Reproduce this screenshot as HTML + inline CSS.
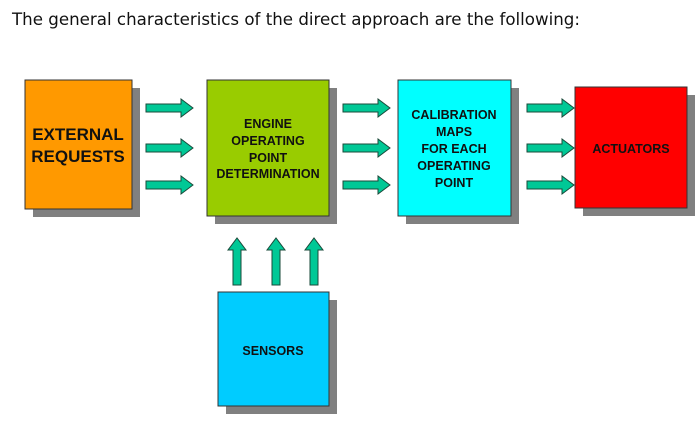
<!DOCTYPE html>
<html><head><meta charset="utf-8"><style>
html,body{margin:0;padding:0;background:#fff;width:700px;height:422px;overflow:hidden}
svg{display:block}
.b{font-family:"Liberation Sans",Arial,sans-serif;font-weight:bold;fill:#111;text-anchor:middle}
</style></head><body>
<svg width="700" height="422" viewBox="0 0 700 422" xmlns="http://www.w3.org/2000/svg">
<defs>
<path id="ah" d="M0,-4 H35 V-9 L47,0 L35,9 V4 H0 Z" fill="#00c896" stroke="#1a4a3a" stroke-width="1"/>
<path id="av" d="M-4,0 V-35 H-9 L0,-47 L9,-35 H4 V0 Z" fill="#00c896" stroke="#1a4a3a" stroke-width="1"/>
</defs>
<text x="12" y="25" font-family="DejaVu Sans,Verdana,sans-serif" font-size="17" fill="#111" textLength="568" lengthAdjust="spacingAndGlyphs">The general characteristics of the direct approach are the following:</text>

<rect x="33" y="88" width="107" height="129" fill="#808080"/>
<rect x="215" y="88" width="122" height="136" fill="#808080"/>
<rect x="406" y="88" width="113" height="136" fill="#808080"/>
<rect x="583" y="95" width="112" height="121" fill="#808080"/>
<rect x="226" y="300" width="111" height="114" fill="#808080"/>

<rect x="25" y="80" width="107" height="129" fill="#ff9900" stroke="#333" stroke-width="1"/>
<rect x="207" y="80" width="122" height="136" fill="#99cc00" stroke="#333" stroke-width="1"/>
<rect x="398" y="80" width="113" height="136" fill="#00ffff" stroke="#333" stroke-width="1"/>
<rect x="575" y="87" width="112" height="121" fill="#ff0000" stroke="#333" stroke-width="1"/>
<rect x="218" y="292" width="111" height="114" fill="#00ccff" stroke="#333" stroke-width="1"/>

<text class="b" font-size="17" x="78" y="140">EXTERNAL</text>
<text class="b" font-size="17" x="78" y="162">REQUESTS</text>
<g font-size="12.5">
<text class="b" x="268" y="128">ENGINE</text>
<text class="b" x="268" y="145">OPERATING</text>
<text class="b" x="268" y="162">POINT</text>
<text class="b" x="268" y="178">DETERMINATION</text>
<text class="b" x="454" y="119">CALIBRATION</text>
<text class="b" x="454" y="136">MAPS</text>
<text class="b" x="454" y="153">FOR EACH</text>
<text class="b" x="454" y="170">OPERATING</text>
<text class="b" x="454" y="187">POINT</text>
<text class="b" x="631" y="153">ACTUATORS</text>
<text class="b" x="273" y="355">SENSORS</text>
</g>

<use href="#ah" x="146" y="108"/><use href="#ah" x="146" y="148"/><use href="#ah" x="146" y="185"/>
<use href="#ah" x="343" y="108"/><use href="#ah" x="343" y="148"/><use href="#ah" x="343" y="185"/>
<use href="#ah" x="527" y="108"/><use href="#ah" x="527" y="148"/><use href="#ah" x="527" y="185"/>
<use href="#av" x="237" y="285"/><use href="#av" x="276" y="285"/><use href="#av" x="314" y="285"/>
</svg>
</body></html>
